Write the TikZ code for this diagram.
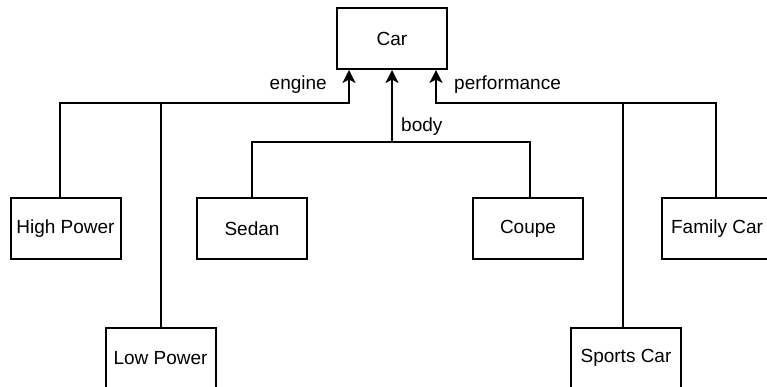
\documentclass[tikz,border=0pt]{standalone}
\usepackage{fontspec}
\setmainfont{Liberation Sans}
\usetikzlibrary{arrows.meta,calc}
\begin{document}
\begin{tikzpicture}[x=1pt,y=-1pt,
  box/.style={draw,line width=2pt,minimum width=110pt,minimum height=61pt,inner sep=0pt,font=\fontsize{19}{22}\selectfont},
  conn/.style={line width=2pt},
  arr/.style={conn,-{Stealth[length=13pt,width=13pt,inset=3.5pt]}},
  lbl/.style={font=\fontsize{19}{22}\selectfont,inner sep=0pt}]
\useasboundingbox (0,0) rectangle (767,386);
\node[box] (car) at (392,38.5) {Car};
\node[box] (hp) at (65.5,228.5) {High Power};
\node[box] (lp) at (160.5,358) {Low Power};
\node[box] (sedan) at (252,228.5) {Sedan};
\node[box] (coupe) at (528,228.5) {Coupe};
\node[box] (fc) at (717,228.5) {Family Car};
\node[box] (sc) at (626,358) {Sports Car};
% engine
\coordinate (ej) at (161,103);
\draw[conn] ([xshift=-5.5pt]hp.north) |- (ej);
\draw[conn] (ej |- lp.north) -- (ej);
\draw[arr] (ej) -| ([xshift=-43pt]car.south);
% body
\coordinate (bj) at (392,142);
\draw[conn] (sedan.north) |- (bj);
\draw[conn] ([xshift=2pt]coupe.north) |- (bj);
\draw[arr] (bj) -- (car.south);
% performance
\coordinate (pj) at (623,103);
\draw[conn] ([xshift=-1pt]fc.north) |- (pj);
\draw[conn] (pj |- sc.north) -- (pj);
\draw[arr] (pj) -| ([xshift=44pt]car.south);
% labels
\node[lbl,anchor=east] (le) at (327,85) {engine};
\node[lbl,anchor=west] (lb) at (401,127) {body};
\node[lbl,anchor=west] (lpf) at (454,85) {performance};
\end{tikzpicture}
\end{document}
